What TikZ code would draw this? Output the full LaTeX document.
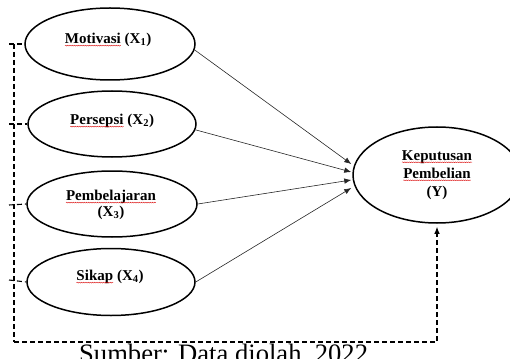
\documentclass[tikz,border=0pt]{standalone}
\usepackage{fontspec}
\setmainfont{Liberation Serif}
\usetikzlibrary{shapes.geometric,arrows.meta,calc,decorations.pathmorphing}
\newcommand\rw[1]{\tikz[baseline=(w.base)]{\node[inner sep=0pt,outer sep=0pt] (w) {#1}; \draw[red!85!black,line width=0.35pt,decorate,decoration={snake,amplitude=0.45pt,segment length=2.2pt}] ([yshift=-2pt]w.base west) -- ([yshift=-2pt]w.base east);}}
\begin{document}
\begin{tikzpicture}[x=1pt,y=-1pt,
 el/.style={ellipse,draw,line width=1.5pt,inner sep=0pt},
 lbl/.style={font=\fontsize{15}{16}\selectfont\bfseries,align=center,inner sep=0pt},
 arr/.style={line width=0.6pt,draw=black!85,-{Latex[length=7pt,width=5.5pt]}},
 dsh/.style={line width=1.1pt,dash pattern=on 5pt off 3pt}]
\useasboundingbox (0,0) rectangle (510,358);
\clip (0,0) rectangle (510,358);
% caption (cut by the page edge)
\node[anchor=base west,inner sep=0pt,font=\fontsize{26.6}{28}\selectfont] (src) at (79,362) {Sumber: Data diolah, 2022};
% ellipses
\node[el,minimum width=170pt,minimum height=72pt] (m) at (110,44) {};
\node[el,minimum width=168pt,minimum height=66pt] (p) at (112,124) {};
\node[el,minimum width=170pt,minimum height=66pt] (b) at (112,204) {};
\node[el,minimum width=168pt,minimum height=67pt] (s) at (111,282) {};
\node[el,minimum width=168pt,minimum height=96pt] (y) at (437,175) {};
% labels
\node[lbl] (mt) at (108,40) {\rw{Motivasi} (X\textsubscript{1})};
\node[lbl] (pt) at (112,121) {\rw{Persepsi} (X\textsubscript{2})};
\node[lbl] (bt) at (111,205) {\rw{Pembelajaran}\\(X\textsubscript{3})};
\node[lbl] (st) at (110,277) {\rw{Sikap} (X\textsubscript{4})};
\node[lbl,font=\fontsize{15}{18}\selectfont\bfseries] (yt) at (437,175) {\rw{Keputusan}\\\rw{Pembelian}\\(Y)};
% arrows
\coordinate (e1) at ($(y.west)+(-1,-11)$);
\coordinate (e2) at ($(y.west)+(-1,-3)$);
\coordinate (e3) at ($(y.west)+(-1,5)$);
\coordinate (e4) at ($(y.west)+(-1,13)$);
\draw[arr] (m.-4) -- (e1);
\draw[arr] (p.-4) -- (e2);
\draw[arr] (b.east) -- (e3);
\draw[arr] (s.east) -- (e4);
% dashed connector
\coordinate (t1) at (9,44);
\coordinate (t2) at (9,124);
\coordinate (t3) at (9,205);
\coordinate (t4) at (9,280);
\coordinate (cl) at (14,342);
\coordinate (cr) at (437,342);
\draw[dsh] (t1) -- (m.west);
\draw[dsh] (t2) -- (p.west);
\draw[dsh] (t3) -- (b.west);
\draw[dsh] (t4) -- (s.west);
\draw[dsh] (14,44) -- (cl);
\draw[dsh,-{Latex[length=7pt,width=5.5pt]}] (cl) -- (cr) -- ([yshift=-3pt]y.south);
\end{tikzpicture}
\end{document}
